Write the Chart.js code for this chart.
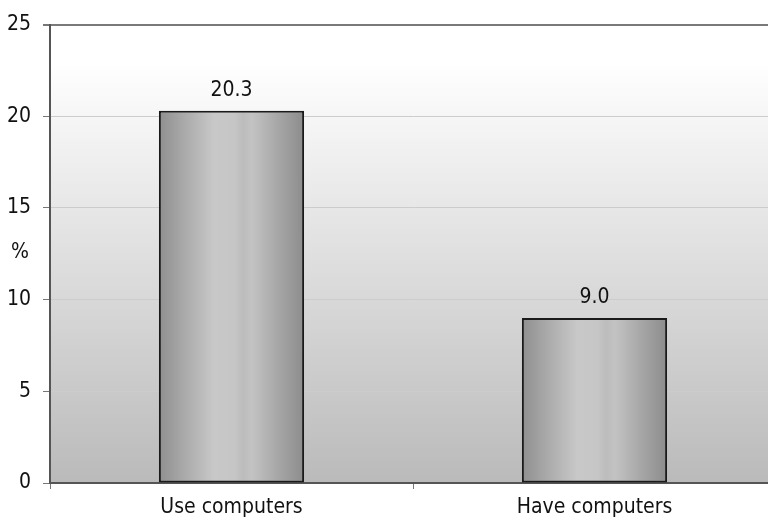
<!DOCTYPE html>
<html>
<head>
<meta charset="utf-8">
<script src="https://cdn.jsdelivr.net/npm/chart.js@4/dist/chart.umd.min.js"></script>
<style>
  html, body { margin: 0; padding: 0; background: #fff; overflow: hidden; }
  #wrap { width: 776px; height: 521px; position: relative; }
</style>
</head>
<body>
<div id="wrap"><canvas id="c" width="776" height="521"></canvas></div>
<script>
const categories = ['Use computers', 'Have computers'];
const shares = [20.3, 9.0];
const yTicks = [0, 5, 10, 15, 20, 25];
const yTitle = '%';

const FONT = '"DejaVu Sans Condensed", "Liberation Sans Narrow", sans-serif';

// Plot background: white at the top fading to grey at the base
const backdrop = {
  id: 'backdrop',
  beforeDraw(chart) {
    const { ctx, chartArea: a } = chart;
    const g = ctx.createLinearGradient(0, a.top, 0, a.bottom);
    g.addColorStop(0, '#ffffff');
    g.addColorStop(0.08, '#ffffff');
    g.addColorStop(1, '#bababa');
    ctx.save();
    ctx.fillStyle = g;
    ctx.fillRect(a.left, a.top, a.right - a.left, a.bottom - a.top);
    ctx.restore();
  }
};

// Value labels above bars and the axis title
const annotations = {
  id: 'annotations',
  afterDatasetsDraw(chart) {
    const { ctx } = chart;
    const meta = chart.getDatasetMeta(0);
    ctx.save();
    ctx.fillStyle = '#111';
    ctx.font = '21px ' + FONT;
    ctx.textAlign = 'center';
    ctx.textBaseline = 'bottom';
    meta.data.forEach((bar, i) => {
      ctx.fillText(shares[i].toFixed(1), bar.x, bar.y - 10);
    });
    ctx.fillText(yTitle, 20, 263);
    ctx.restore();
  }
};

function barFill(context) {
  const chart = context.chart;
  const a = chart.chartArea;
  if (!a) return '#aaaaaa';
  const xs = chart.scales.x;
  const cx = xs.getPixelForValue(context.dataIndex);
  const w = (a.right - a.left) / categories.length * 0.4;
  const g = chart.ctx.createLinearGradient(cx - w / 2, 0, cx + w / 2, 0);
  g.addColorStop(0.00, '#8f8f8f');
  g.addColorStop(0.15, '#a6a6a6');
  g.addColorStop(0.38, '#c8c8c8');
  g.addColorStop(0.52, '#c6c6c6');
  g.addColorStop(0.58, '#bcbcbc');
  g.addColorStop(0.64, '#c3c3c3');
  g.addColorStop(0.85, '#a2a2a2');
  g.addColorStop(1.00, '#8c8c8c');
  return g;
}

new Chart(document.getElementById('c'), {
  type: 'bar',
  data: {
    labels: categories,
    datasets: [{
      data: shares,
      backgroundColor: barFill,
      borderColor: '#1a1a1a',
      borderWidth: 2,
      borderSkipped: false,
      barPercentage: 0.4,
      categoryPercentage: 1
    }]
  },
  plugins: [backdrop, annotations],
  options: {
    responsive: false,
    animation: false,
    layout: { padding: { top: 20, right: 0, left: 0, bottom: 0 } },
    plugins: { legend: { display: false }, tooltip: { enabled: false } },
    scales: {
      x: {
        afterFit(s) { s.height = 38; },
        grid: {
          offset: true,
          drawOnChartArea: false,
          tickLength: 6,
          tickColor: '#777',
          lineWidth: 1
        },
        border: { color: '#555', width: 2 },
        ticks: {
          color: '#111',
          font: { family: FONT, size: 21 },
          padding: 6
        }
      },
      y: {
        min: 0,
        max: 25,
        afterFit(s) { s.width = 50; },
        afterBuildTicks(s) { s.ticks = yTicks.map(v => ({ value: v })); },
        grid: {
          color: c => (c.tick && c.tick.value === 25) ? '#7a7a7a' : '#cccccc',
          lineWidth: c => (c.tick && c.tick.value === 25) ? 2 : 1,
          tickColor: '#777',
          tickLength: 7
        },
        border: { color: '#555', width: 2 },
        ticks: {
          color: '#111',
          font: { family: FONT, size: 21 },
          padding: 12
        }
      }
    }
  }
});
</script>
</body>
</html>
